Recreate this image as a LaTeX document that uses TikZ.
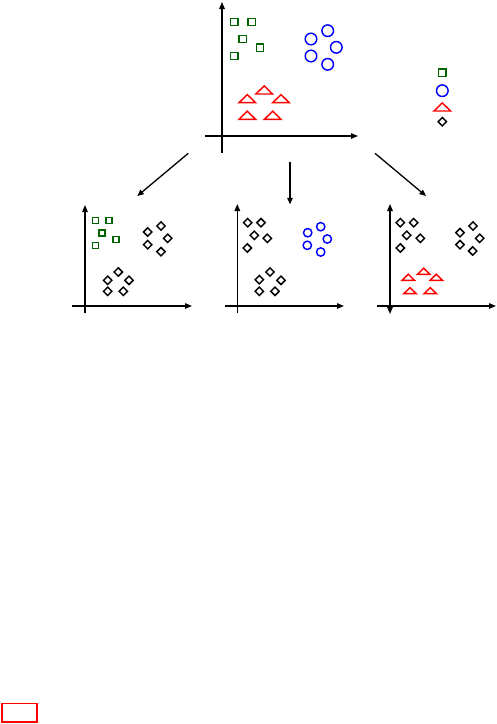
\documentclass[tikz,border=0pt]{standalone}
\usetikzlibrary{arrows.meta}
\definecolor{dkgreen}{RGB}{0,100,0}
\tikzset{
  axisline/.style={line width=1.4pt, -{Triangle[length=7pt,width=5.5pt]}},
  bothaxis/.style={line width=1.4pt, {Triangle[length=7pt,width=5.5pt]}-{Triangle[length=7pt,width=5.5pt]}},
  flow/.style={line width=1.3pt, -{Triangle[length=6.5pt,width=5.5pt]}},
  mk/.style={line width=1.45pt},
  sq/.pic={\draw[mk,dkgreen] (-3.6,-3.6) rectangle (3.6,3.6);},
  circ/.pic={\draw[mk,blue] (0,0) circle[radius=5.8];},
  tri/.pic={\draw[mk,red,line join=miter] (-8.3,0) -- (0,-8.1) -- (8.3,0) -- cycle;},
  dia/.pic={\draw[mk,black] (0,-4.2) -- (4.2,0) -- (0,4.2) -- (-4.2,0) -- cycle;}
}
\begin{document}
\begin{tikzpicture}[x=1pt,y=-1pt]
\useasboundingbox (0,0) rectangle (497,724);
% top plot
\coordinate (TyB) at (222,153); \coordinate (TyT) at (222,2);
\coordinate (TxL) at (205,136); \coordinate (TxR) at (358,136);
\draw[axisline] (TyB) -- (TyT);
\draw[axisline] (TxL) -- (TxR);
\foreach \p in {(234.3,22),(251.7,22),(242.7,39),(260,47.7),(234.3,56)} \pic at \p {sq};
\foreach \p in {(327.7,30.7),(311,39),(336.3,47.3),(311,56),(327.7,64.3)} \pic at \p {circ};
\foreach \p in {(264.2,94),(247.3,102.7),(281,102.7),(247.3,119.3),(272.7,119.3)} \pic at \p {tri};
% legend
\pic at (442.3,72.7) {sq};
\pic at (442.3,90.7) {circ};
\pic at (442.3,111) {tri};
\pic at (442.3,121.7) {dia};
% flow arrows
\coordinate (A1s) at (188.3,153.3); \coordinate (A1e) at (137.3,196);
\coordinate (A2s) at (290,161.7); \coordinate (A2e) at (290,204.3);
\coordinate (A3s) at (375,153.3); \coordinate (A3e) at (426,196);
\draw[flow] (A1s) -- (A1e);
\draw[flow] (A2s) -- (A2e);
\draw[flow] (A3s) -- (A3e);
% bottom plot 1
\coordinate (B1yB) at (85,313); \coordinate (B1yT) at (85,205);
\coordinate (B1xL) at (71.7,306); \coordinate (B1xR) at (192,306);
\draw[axisline] (B1yB) -- (B1yT);
\draw[axisline] (B1xL) -- (B1xR);
\foreach \p in {(95.7,220.3),(109,220.3),(102,233),(116,239.3),(95.7,245.7)} \pic[scale=0.85] at \p {sq};
\foreach \p in {(161,226),(147.7,232),(167.7,238.3),(147.7,244.7),(161,251.7)} \pic at \p {dia};
\foreach \p in {(118.3,272),(107.7,280.3),(129,280.3),(107.7,291.3),(123.3,291.3)} \pic at \p {dia};
% bottom plot 2
\coordinate (B2yB) at (237.3,313); \coordinate (B2yT) at (237.3,204);
\coordinate (B2xL) at (225,306); \coordinate (B2xR) at (344,306);
\draw[axisline] (B2yB) -- (B2yT);
\draw[axisline] (B2xL) -- (B2xR);
\foreach \p in {(247.7,222.7),(261,222.7),(254.3,235.3),(267.3,238.3),(247.3,248)} \pic at \p {dia};
\foreach \p in {(320.7,226.7),(307.7,232.7),(327.3,239),(307.3,245.3),(320.7,252)} \pic[scale=0.72] at \p {circ};
\foreach \p in {(270,272),(259.3,279.7),(281,280.3),(259.3,291.3),(275,291.3)} \pic at \p {dia};
% bottom plot 3
\coordinate (B3yB) at (390,314); \coordinate (B3yT) at (390,204);
\coordinate (B3xL) at (377,306); \coordinate (B3xR) at (496,306);
\draw[bothaxis] (B3yB) -- (B3yT);
\draw[axisline] (B3xL) -- (B3xR);
\foreach \p in {(400.3,222.7),(413.7,222.7),(406.7,235.3),(420.3,238.3),(400.3,248)} \pic at \p {dia};
\foreach \p in {(473,226),(460,232.7),(479.7,238.3),(460,244.7),(472.7,251)} \pic at \p {dia};
\foreach \p in {(423.7,274.3),(408.3,280.3),(436.3,280.3),(410,293.7),(430.3,293.7)} \pic[scale=0.75] at \p {tri};
% red box
\coordinate (Rb1) at (1.85,703.5); \coordinate (Rb2) at (36.85,721.9);
\draw[red,line width=1.7pt] (Rb1) rectangle (Rb2);
\end{tikzpicture}
\end{document}
